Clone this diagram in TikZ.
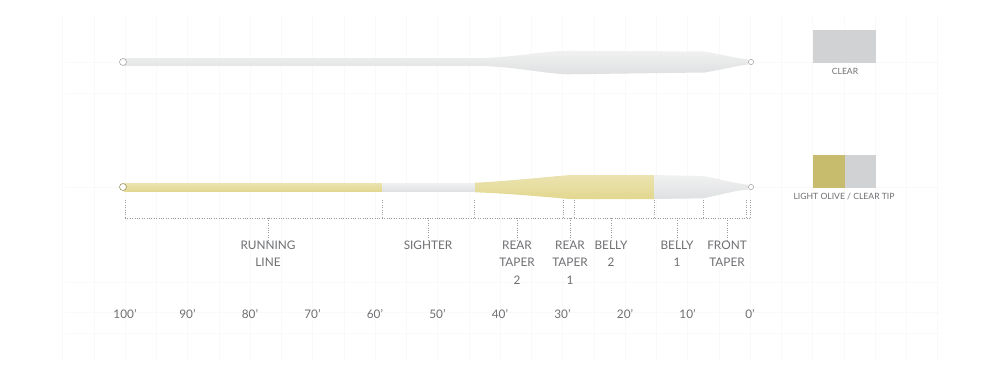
\documentclass[tikz,border=0pt]{standalone}
\usepackage{fontspec}
\setmainfont{Lato}
\usetikzlibrary{positioning}
\definecolor{clearline}{HTML}{DFE0E1}
\definecolor{oliveline}{HTML}{E2D78F}
\definecolor{clearswatch}{HTML}{D1D2D4}
\definecolor{oliveswatch}{HTML}{C7BC6D}
\definecolor{labelgray}{HTML}{6D6E71}
\definecolor{dimgray}{HTML}{9A9B9D}
\definecolor{gridgray}{HTML}{F9F9F9}

\begin{document}
\begin{tikzpicture}[x=1pt,y=-1pt,
    clearpart/.style={top color=clearline!45!white,bottom color=clearline},
    olivepart/.style={top color=oliveline!70!white,bottom color=oliveline},
    eyelet/.style={draw=clearline!75!black,fill=white,line width=0.6pt},
    dimline/.style={draw=dimgray,line width=0.7pt,dash pattern=on 0.8pt off 1.6pt},
    seglabel/.style={text=labelgray,font=\fontsize{11.8}{17.5}\selectfont,align=center,anchor=north,inner sep=1.5pt},
    ftlabel/.style={text=labelgray,font=\fontsize{11.8}{13}\selectfont},
    swlabel/.style={text=labelgray,font=\fontsize{8.6}{10}\selectfont}]
  \useasboundingbox (0,0) rectangle (1000,375);

  % faint background grid
  \foreach \i in {-2,...,26}
    \draw[gridgray,line width=0.5pt] (125+31.25*\i,15) -- (125+31.25*\i,360);
  \foreach \y in {62,93,187,282,312,333}
    \draw[gridgray,line width=0.5pt] (65,\y) -- (940,\y);

  % clear line
  \shade[clearpart] (124,58) -- (483,58)
    .. controls (520,56.5) and (540,51.5) .. (567,50.7) -- (705,51.5)
    .. controls (720,54) and (735,58) .. (748,59.5) -- (748,64.5)
    .. controls (735,66) and (720,70) .. (705,72.5) -- (567,74.3)
    .. controls (540,73) and (520,67.5) .. (483,66) -- (124,66) -- cycle;
  \draw[eyelet] (123,62) circle (3.5);
  \draw[eyelet] (751,62) circle (2.6);

  % light olive / clear tip line
  \shade[olivepart] (124,183) rectangle (382,191.5);
  \shade[clearpart] (382,183) rectangle (475,191.5);
  \shade[olivepart] (475,182.7)
    .. controls (510,181) and (545,177) .. (570,175) -- (654,175) -- (654,199) -- (570,199)
    .. controls (545,197) and (510,193.5) .. (475,192.3) -- cycle;
  \shade[clearpart] (654,175) -- (703,176)
    .. controls (720,179) and (735,183.5) .. (748,184.7) -- (748,189.5)
    .. controls (735,190.5) and (720,195) .. (703,198.3) -- (654,199) -- cycle;
  \draw[eyelet,draw=oliveline!70!black] (123,187) circle (3.5);
  \draw[eyelet] (751,187) circle (2.6);

  % swatches
  \fill[clearswatch] (813,30) rectangle (876,63);
  \node[swlabel] (clear) at (845,71) {CLEAR};
  \fill[oliveswatch] (813,155) rectangle (845,188);
  \fill[clearswatch] (845,155) rectangle (876,188);
  \node[swlabel] (olivetip) at (844,197) {LIGHT OLIVE / CLEAR TIP};

  % section brackets
  \coordinate (dimL) at (125,218);
  \coordinate (dimR) at (750,218);
  \foreach \name/\x in {s0/125,s1/382,s2/474,s3/563,s4/574,s5/654,s6/703,s7/746,s8/750}
    \coordinate (\name) at (\x,200);
  \foreach \name in {s0,s1,s2,s3,s4,s5,s6,s7,s8}
    \draw[dimline] (\name) -- (\name |- dimL);
  \draw[dimline] (dimL) -- (dimR);

  \node[seglabel] (running) at (268,239) {RUNNING\\LINE};
  \node[seglabel] (sighter) at (428,239) {SIGHTER};
  \node[seglabel] (reartwo) at (517,239) {REAR\\TAPER\\2};
  \node[seglabel] (rearone) at (570,239) {REAR\\TAPER\\1};
  \node[seglabel] (bellytwo) at (611,239) {BELLY\\2};
  \node[seglabel] (bellyone) at (677,239) {BELLY\\1};
  \node[seglabel] (front) at (727,239) {FRONT\\TAPER};
  \foreach \lbl in {running,sighter,reartwo,rearone,bellytwo,bellyone,front}
    \draw[dimline] (\lbl.north |- dimL) -- ([yshift=-2pt]\lbl.north);

  % length scale
  \foreach \ft [count=\i from 0] in {100,90,...,0}
    \node[ftlabel] (ft\ft) at (125+62.5*\i,314) {\ft’};
\end{tikzpicture}
\end{document}
